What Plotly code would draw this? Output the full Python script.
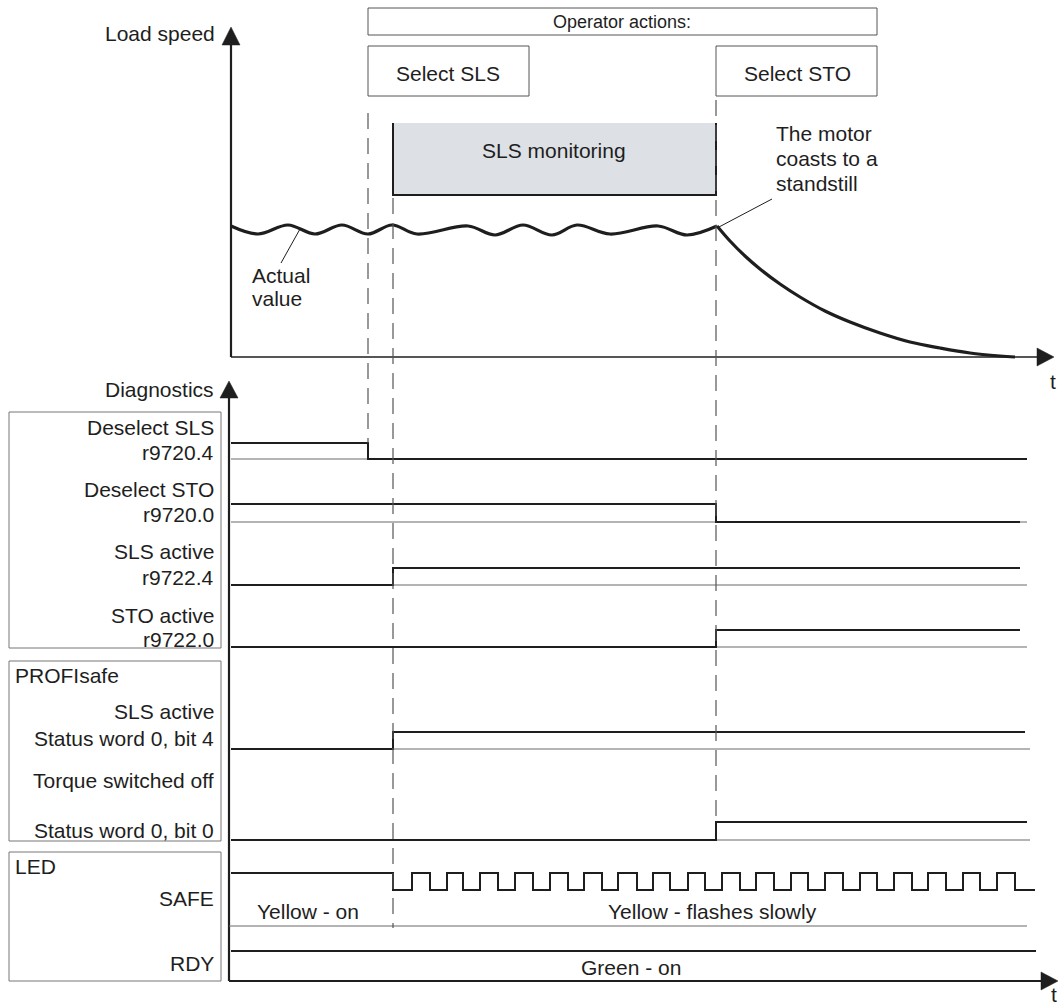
import plotly.graph_objects as go

# ---------------------------------------------------------------- data
# time axis in arbitrary units (0 = vertical axis of the diagram)
T_SELECT_SLS = 137      # operator selects SLS
T_SLS_ACTIVE = 162      # SLS becomes active
T_SELECT_STO = 485      # operator selects STO

# load speed (arbitrary units)
SPEED_T = [0, 27, 57, 84, 111, 137, 161, 186, 237, 264, 292, 321, 346, 379, 427, 456, 486]
SPEED_V = [131, 123, 132, 123, 132, 123, 132, 123, 131, 122, 132, 122, 132, 123, 131, 122, 131]
COAST_T = [486, 499, 514, 529, 549, 569, 594, 619, 649, 679, 709, 739, 769, 784]
COAST_V = [131, 116, 101, 88, 73, 60, 46, 35, 24, 15, 9, 4, 1, 0]

# diagnostic signals (step points, 1 = high)
DESEL_SLS_T = [0, 137, 796]
DESEL_SLS_V = [1, 0, 0]
DESEL_STO_T = [0, 485, 789]
DESEL_STO_V = [1, 0, 0]
SLS_ACT_T = [0, 162, 789]
SLS_ACT_V = [0, 1, 1]
STO_ACT_T = [0, 485, 789]
STO_ACT_V = [0, 1, 1]
PS_SLS_T = [0, 162, 794]
PS_SLS_V = [0, 1, 1]
PS_TORQUE_T = [0, 485, 796]
PS_TORQUE_V = [0, 1, 1]
RDY_T = [0, 805]
RDY_V = [1, 1]

# SAFE LED: on until SLS active, then flashing (on / off edges)
SAFE_ON_UNTIL = 162
SAFE_FLASH_ON = [181, 216, 249, 284, 319, 353, 387, 422, 457, 491, 525, 560, 594, 629, 663, 697, 732, 766]
SAFE_FLASH_OFF = [199, 232, 267, 302, 337, 371, 406, 439, 474, 509, 543, 577, 612, 646, 681, 715, 749, 784]
SAFE_END = 804

ROW_LABELS = [
    ("Deselect SLS", "r9720.4"),
    ("Deselect STO", "r9720.0"),
    ("SLS active", "r9722.4"),
    ("STO active", "r9722.0"),
    ("SLS active", "Status word 0, bit 4"),
    ("Torque switched off", "Status word 0, bit 0"),
]

# ---------------------------------------------------------------- layout geometry (pixels)
W, H = 1061, 1005
X0 = 231
FONT = "Liberation Sans, Arial, sans-serif"
FS = 21
INK = "#1e1e1e"
THIN = "#6a6a6a"


def px(x):
    return x / W


def py(y):
    return 1 - y / H


shapes = []
annotations = []


def line(x0, y0, x1, y1, color=INK, width=1.0, dash=None, xref="paper"):
    d = dict(color=color, width=width)
    if dash:
        d["dash"] = dash
    shapes.append(dict(type="line", xref=xref, yref="paper",
                       x0=px(x0) if xref == "paper" else x0,
                       x1=px(x1) if xref == "paper" else x1,
                       y0=py(y0), y1=py(y1), line=d, layer="above"))


def rect(x0, y0, x1, y1, color="#555555", width=1.0, fill="rgba(0,0,0,0)"):
    shapes.append(dict(type="rect", xref="paper", yref="paper",
                       x0=px(x0), x1=px(x1), y0=py(y0), y1=py(y1),
                       line=dict(color=color, width=width), fillcolor=fill, layer="below"))


def tri(pts, color=INK):
    p = "M " + " L ".join(f"{px(x)},{py(y)}" for x, y in pts) + " Z"
    shapes.append(dict(type="path", xref="paper", yref="paper", path=p,
                       fillcolor=color, line=dict(color=color, width=0.5), layer="above"))


def text(s, x, y, anchor="center", size=FS, color=INK):
    annotations.append(dict(text=s, x=px(x), y=py(y), xref="paper", yref="paper",
                            xanchor=anchor, yanchor="middle", showarrow=False,
                            font=dict(family=FONT, size=size, color=color)))


fig = go.Figure()

# ------------- speed panel
SPEED_TOP_PX, SPEED_ZERO_PX, SPEED_RANGE = 28, 357, 329
yaxes = {}
yaxes["yaxis"] = dict(domain=[py(SPEED_ZERO_PX + 10), py(SPEED_TOP_PX)],
                      range=[-10, SPEED_RANGE], visible=False, fixedrange=True)

fig.add_trace(go.Scatter(x=SPEED_T, y=SPEED_V, mode="lines", line_shape="spline",
                         line=dict(color=INK, width=3.2), yaxis="y", hoverinfo="skip"))
fig.add_trace(go.Scatter(x=COAST_T, y=COAST_V, mode="lines", line_shape="spline",
                         line=dict(color=INK, width=3.2), yaxis="y", hoverinfo="skip"))

# ------------- signal rows: (high px, low px)
ROW_PX = [(443, 459), (504, 522), (568, 585), (630, 647), (732, 749), (822, 840), (873, 890), (951, 981)]
BASE_END = [796, 796, 796, 796, 799, 799, None, None]

safe_t = [0, SAFE_ON_UNTIL]
safe_v = [1, 0]
for on, off in zip(SAFE_FLASH_ON, SAFE_FLASH_OFF):
    safe_t += [on, off]
    safe_v += [1, 0]
safe_t.append(SAFE_END)
safe_v.append(0)

SIGNALS = [(DESEL_SLS_T, DESEL_SLS_V), (DESEL_STO_T, DESEL_STO_V),
           (SLS_ACT_T, SLS_ACT_V), (STO_ACT_T, STO_ACT_V),
           (PS_SLS_T, PS_SLS_V), (PS_TORQUE_T, PS_TORQUE_V),
           (safe_t, safe_v), (RDY_T, RDY_V)]

for i, ((hi, lo), (ts, vs)) in enumerate(zip(ROW_PX, SIGNALS)):
    name = f"y{i + 2}"
    h = lo - hi
    yaxes[f"yaxis{i + 2}"] = dict(domain=[py(lo + 0.5 * h), py(hi - 0.5 * h)],
                                  range=[-0.5, 1.5], visible=False, fixedrange=True)
    if BASE_END[i] is not None:
        fig.add_trace(go.Scatter(x=[0, BASE_END[i]], y=[0, 0], mode="lines",
                                 line=dict(color=THIN, width=1.2), yaxis=name, hoverinfo="skip"))
    fig.add_trace(go.Scatter(x=ts, y=vs, mode="lines", line_shape="hv",
                             line=dict(color=INK, width=2), yaxis=name, hoverinfo="skip"))

# ------------- axes with arrows
line(231, 44, 231, 357, width=2.2)
tri([(231, 27), (222, 45), (240, 45)])
line(231, 357, 1038, 357, width=1.6)
tri([(1054, 357), (1037, 348), (1037, 366)])
text("t", 1053, 381)

line(229, 397, 229, 981, width=2.2)
tri([(229, 381), (220, 398), (238, 398)])
line(229, 981, 1042, 981, width=2)
tri([(1058, 981), (1041, 972), (1041, 990)])
text("t", 1054, 994)

text("Load speed", 217, 34, anchor="right")
text("Diagnostics", 216, 389, anchor="right")

# SAFE separator line
line(229, 926, 1027, 926, color=THIN, width=1.2)

# ------------- operator action boxes
rect(368, 8, 877, 35)
text("Operator actions:", 622, 22, size=18)
rect(368, 46, 529, 96)
text("Select SLS", 448, 73)
rect(716, 46, 877, 96)
text("Select STO", 797, 73)

# SLS monitoring box
shapes.append(dict(type="rect", xref="paper", yref="paper", x0=px(393), x1=px(716),
                   y0=py(195), y1=py(123), fillcolor="#dde1e5",
                   line=dict(width=0), layer="below"))
line(393, 123, 393, 196, width=2)
line(393, 195, 716, 195, width=2)
line(716, 123, 716, 196, width=2)
text("SLS monitoring", 554, 150)

# ------------- dashed time markers (x in data units)
DASH = "16px,9px"
line(T_SELECT_SLS, 113, T_SELECT_SLS, 443, color="#555555", width=1.2, dash=DASH, xref="x")
line(T_SLS_ACTIVE, 198, T_SLS_ACTIVE, 928, color="#555555", width=1.2, dash=DASH, xref="x")
line(T_SELECT_STO, 100, T_SELECT_STO, 822, color="#555555", width=1.2, dash=DASH, xref="x")

# ------------- speed annotations
line(300, 229, 281, 263, width=1)
text("Actual", 250, 275, anchor="left")
text("value", 250, 298, anchor="left")
line(772, 199, 719, 227, width=1)
text("The motor", 774, 134, anchor="left")
text("coasts to a", 774, 159, anchor="left")
text("standstill", 774, 184, anchor="left")

# ------------- label boxes
rect(9, 412, 221, 648, color="#777777")
rect(9, 661, 221, 841, color="#777777")
rect(9, 852, 221, 981, color="#777777")

LABEL_Y = [(427, 452), (489, 514), (551, 577), (615, 639), (711, 738), (780, 830)]
for (l1, l2), (y1, y2) in zip(ROW_LABELS, LABEL_Y):
    text(l1, 216, y1, anchor="right")
    text(l2, 216, y2, anchor="right")

text("PROFIsafe", 13, 675, anchor="left")
text("LED", 13, 866, anchor="left")
text("SAFE", 216, 898, anchor="right")
text("RDY", 216, 963, anchor="right")
text("Yellow - on", 255, 911, anchor="left")
text("Yellow - flashes slowly", 712, 911)
text("Green - on", 631, 967)

fig.update_layout(
    width=W, height=H,
    margin=dict(l=0, r=0, t=0, b=0),
    paper_bgcolor="white", plot_bgcolor="white",
    showlegend=False,
    xaxis=dict(range=[-X0, W - X0], domain=[0, 1], visible=False, fixedrange=True),
    shapes=shapes, annotations=annotations,
    **yaxes,
)

fig.write_html("out.html", config={"displayModeBar": False},
               post_script="document.body.style.margin='0';document.body.style.overflow='hidden';")
